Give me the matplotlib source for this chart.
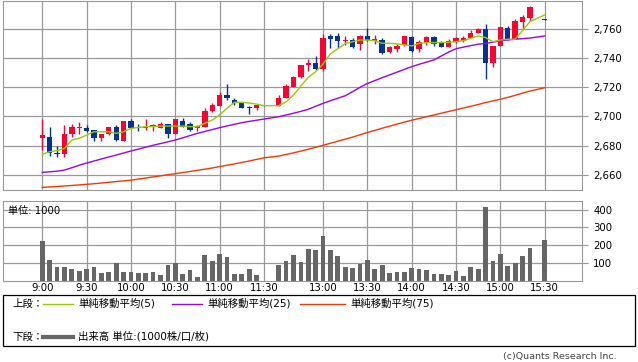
import matplotlib as mpl
mpl.use('Agg')

import matplotlib.pyplot as plt
from matplotlib.patches import Rectangle
import numpy as np

plt.rcParams['font.family'] = ['DejaVu Sans', 'Noto Sans CJK JP']

# 5 minute bars, morning + afternoon session
times = ['9:00', '9:05', '9:10', '9:15', '9:20', '9:25', '9:30', '9:35', '9:40', '9:45',
         '9:50', '9:55', '10:00', '10:05', '10:10', '10:15', '10:20', '10:25', '10:30', '10:35',
         '10:40', '10:45', '10:50', '10:55', '11:00', '11:05', '11:10', '11:15', '11:20', '11:25',
         '11:30',
         '12:30', '12:35', '12:40', '12:45', '12:50', '12:55', '13:00', '13:05', '13:10', '13:15',
         '13:20', '13:25', '13:30', '13:35', '13:40', '13:45', '13:50', '13:55', '14:00', '14:05',
         '14:10', '14:15', '14:20', '14:25', '14:30', '14:35', '14:40', '14:45', '14:50', '14:55',
         '15:00', '15:05', '15:10', '15:15', '15:20', '15:30']

opens = [2685, 2686, 2675, 2674, 2688, 2692, 2692, 2691, 2685, 2688,
         2693, 2683, 2697, 2693, 2692, 2692.5, 2692, 2695, 2688, 2697,
         2695, 2692, 2692.5, 2704, 2707.5, 2715, 2711, 2709.5, 2706.2, 2705.5,
         2708,
         2707.5, 2713, 2720, 2727, 2735, 2737, 2732.5, 2755, 2755, 2751.5,
         2752.5, 2749.5, 2755, 2752, 2752.5, 2744.5, 2746, 2749, 2754.5, 2746,
         2750.5, 2754.5, 2751, 2748, 2751.3, 2752, 2753.7, 2757.5, 2760, 2736.5,
         2748.6, 2761, 2753, 2765, 2767.5, 2767]
highs = [2698, 2693, 2680, 2694, 2695, 2696, 2694, 2691, 2688, 2693,
         2694, 2697, 2698, 2695, 2698, 2695, 2696, 2695, 2698, 2699,
         2696, 2694, 2706, 2709, 2717, 2722, 2713, 2710, 2707, 2708,
         2708,
         2715, 2722, 2727.5, 2735, 2739.5, 2741.5, 2756.5, 2756.5, 2757, 2755,
         2754, 2756, 2760.5, 2756, 2754, 2748.5, 2750, 2755.5, 2755, 2752.5,
         2755, 2755.5, 2751.5, 2753, 2754.8, 2755, 2759.4, 2760.5, 2763.5, 2748.4,
         2761.6, 2762, 2767, 2769.7, 2776, 2767]
lows = [2677, 2673, 2672, 2672, 2686, 2688, 2689, 2683, 2683, 2687,
        2683, 2683, 2692, 2690, 2691, 2690, 2692, 2685, 2688, 2692.5,
        2690, 2690, 2692.5, 2703, 2707.5, 2711, 2708, 2705.5, 2702, 2704.5,
        2707,
        2707.5, 2713, 2720, 2726.5, 2731, 2732, 2731.5, 2747, 2747, 2749,
        2747, 2745.5, 2752, 2750, 2743, 2743.5, 2744.5, 2748.5, 2744.5, 2744.5,
        2749, 2748.5, 2748, 2748, 2750.7, 2751.3, 2753.7, 2757.5, 2726, 2734,
        2748.6, 2752.5, 2753, 2760, 2765.5, 2766.5]
closes = [2687, 2675, 2674, 2688, 2693, 2692.5, 2690, 2685, 2688, 2693,
          2684, 2697, 2692, 2692, 2693, 2694, 2695, 2688, 2698, 2693,
          2691, 2693.5, 2704, 2708, 2715, 2713, 2709.5, 2705.5, 2705.8, 2708,
          2707.5,
          2713, 2721, 2727, 2735, 2737, 2732.5, 2754, 2753, 2752, 2752.5,
          2748, 2755.5, 2752.5, 2753, 2743.5, 2747.5, 2748.5, 2755, 2745, 2751,
          2754.5, 2749.5, 2748, 2751.5, 2753.7, 2754, 2757.5, 2760, 2736.5, 2748.4,
          2761.6, 2753, 2765.5, 2768, 2775, 2766.5]

ma5 = [2674, 2675.8, 2676.5, 2678.1, 2683.8, 2685, 2687.2, 2689.5, 2689.5, 2689.5,
       2688.4, 2689.5, 2691.8, 2692.5, 2693, 2693, 2693.4, 2693.4, 2693.4, 2693.4,
       2693, 2693, 2695.3, 2697.5, 2701, 2705.6, 2709.7, 2709.7, 2709.2, 2708.5,
       2707.4,
       2707.4, 2710.1, 2714.7, 2720.9, 2726.9, 2730.7, 2736, 2743, 2746.5, 2750,
       2751.3, 2752.5, 2752.5, 2752, 2750.2, 2750.2, 2749.8, 2749.1, 2748.4, 2750.2,
       2750.7, 2750.7, 2750.7, 2750.9, 2751.3, 2752, 2753.7, 2755.3, 2754.1, 2751.3,
       2752.5, 2753, 2753, 2759, 2765.1, 2769.7]
ma25 = [2661.6, 2662.0, 2662.4, 2663.2, 2664.8, 2666.5, 2668.0, 2669.4, 2670.8, 2672.2,
        2673.5, 2674.9, 2676.3, 2677.6, 2678.9, 2680.2, 2681.4, 2682.6, 2683.8, 2685.3,
        2686.9, 2688.4, 2689.7, 2691.0, 2692.3, 2693.5, 2694.6, 2695.7, 2696.6, 2697.4,
        2698.2,
        2699.8, 2701.0, 2702.2, 2703.5, 2704.9, 2707.0, 2709.0, 2710.8, 2712.5, 2714.2,
        2717.0, 2720.0, 2722.6, 2724.6, 2726.6, 2728.5, 2730.4, 2732.3, 2734.2, 2735.8,
        2737.3, 2738.8, 2741.5, 2744.2, 2746.5, 2747.6, 2748.6, 2749.6, 2750.2, 2751.0,
        2752.0, 2752.5, 2753.0, 2753.4, 2753.8, 2755.3]
ma75 = [2651.3, 2651.6, 2651.9, 2652.3, 2652.6, 2653.0, 2653.4, 2653.8, 2654.3, 2654.8,
        2655.3, 2655.8, 2656.2, 2657.0, 2657.7, 2658.5, 2659.2, 2660.0, 2660.7, 2661.5,
        2662.2, 2663.0, 2663.8, 2664.6, 2665.6, 2666.5, 2667.4, 2668.4, 2669.4, 2670.5,
        2671.6,
        2672.8, 2673.9, 2675.0, 2676.2, 2677.5, 2678.8, 2680.2, 2681.6, 2683.0, 2684.4,
        2685.8, 2687.4, 2689.0, 2690.4, 2691.9, 2693.3, 2694.7, 2696.1, 2697.4, 2698.6,
        2699.8, 2701.0, 2702.2, 2703.4, 2704.6, 2705.8, 2707.0, 2708.2, 2709.5, 2710.7,
        2711.8, 2713.1, 2714.5, 2716.0, 2717.4, 2719.7]

volume = [225, 116, 78, 78, 65, 54, 65, 78, 44, 50,
          97, 50, 50, 44, 44, 50, 31, 88, 97, 37,
          59, 22, 144, 110, 150, 135, 37, 37, 65, 31,
          0,
          88, 110, 144, 107, 178, 173, 254, 173, 139, 78,
          73, 93, 116, 65, 88, 42, 48, 48, 71, 65,
          59, 37, 37, 31, 54, 25, 76, 65, 416, 110,
          150, 82, 99, 139, 186, 231]

tick_labels = ['9:00', '9:30', '10:00', '10:30', '11:00', '11:30',
               '13:00', '13:30', '14:00', '14:30', '15:00', '15:30']
price_ticks = [2660, 2680, 2700, 2720, 2740, 2760]
vol_ticks = [100, 200, 300, 400]

UP = '#ff0033'
DOWN = '#003399'
GRID = '#999999'


def slot(t):
    h, m = t.split(':')
    mins = int(h) * 60 + int(m)
    if mins < 12 * 60:
        return (mins - 9 * 60) / 5.0
    return (mins - 12 * 60 - 30) / 5.0 + 32


x = np.array([slot(t) for t in times])
o = np.array(opens); c = np.array(closes)
hi = np.array(highs); lo = np.array(lows)
cols = np.where(c >= o, UP, DOWN)

W, H = 638.0, 362.0
fig = plt.figure(figsize=(W / 100, H / 100), dpi=100)


def px_axes(left, top, right, bottom):
    return fig.add_axes([left / W, 1 - bottom / H, (right - left) / W, (bottom - top) / H])


xlim = (-5.32, 73.05)

# price panel
ax = px_axes(3, 0.5, 582, 190)
ax.set_axisbelow(True)
ax.grid(True, color=GRID, lw=0.9)
ax.plot(x, ma75, color='#ff3300', lw=1.0, zorder=4)
ax.plot(x, ma25, color='#9900ff', lw=1.0, zorder=4)
ax.vlines(x, lo, hi, colors=cols, lw=1.0, zorder=3)
ax.bar(x, np.maximum(np.abs(c - o), 0.5), 0.72, bottom=np.minimum(o, c),
       color=cols, linewidth=0, zorder=3)
ax.plot(x, ma5, color='#99cc00', lw=1.0, zorder=4)
ax.set_xlim(*xlim)
ax.set_ylim(2649.5, 2779.6)
ax.set_xticks([slot(t) for t in tick_labels])
ax.set_xticklabels([])
ax.set_yticks(price_ticks)
ax.set_yticklabels([f'{v:,}' for v in price_ticks])
ax.yaxis.tick_right()
ax.tick_params(axis='x', length=0)
ax.tick_params(axis='y', length=4, color=GRID, labelsize=7.3, pad=4)
for s in ax.spines.values():
    s.set_color(GRID)

# volume panel
av = px_axes(3, 201, 582, 280.5)
av.set_axisbelow(True)
av.grid(True, color=GRID, lw=0.9)
av.bar(x, volume, 0.64, color='#666666', linewidth=0)
av.set_xlim(*xlim)
av.set_ylim(0, 449)
av.set_xticks([slot(t) for t in tick_labels])
av.set_xticklabels(tick_labels)
av.set_yticks(vol_ticks)
av.yaxis.tick_right()
av.tick_params(axis='x', length=0, labelsize=7.3, pad=2)
av.tick_params(axis='y', length=4, color=GRID, labelsize=7.3, pad=4)
for s in av.spines.values():
    s.set_color(GRID)
av.text(5 / 579, (449 - 12) / 449 * 0 + 0.88, '単位: 1000', transform=av.transAxes,
        fontsize=7.3, va='center', ha='left')

# legend box, laid out in pixels
lg = fig.add_axes([0, 0, 1, 1])
lg.set_xlim(0, W)
lg.set_ylim(H, 0)
lg.axis('off')
lg.add_patch(Rectangle((3, 294.5), 632, 51.5, fill=False, ec='black', lw=0.9))
lg.text(12, 303.5, '上段：', fontsize=7.5, va='center', ha='left')
lg.plot([43, 73], [303.5, 303.5], color='#99cc00', lw=1.0)
lg.text(78, 303.5, '単純移動平均(5)', fontsize=7.5, va='center', ha='left')
lg.plot([172, 202], [303.5, 303.5], color='#9900ff', lw=1.0)
lg.text(207, 303.5, '単純移動平均(25)', fontsize=7.5, va='center', ha='left')
lg.plot([300, 345], [303.5, 303.5], color='#ff3300', lw=1.0)
lg.text(350, 303.5, '単純移動平均(75)', fontsize=7.5, va='center', ha='left')
lg.text(12, 336.5, '下段：', fontsize=7.5, va='center', ha='left')
lg.plot([43, 73], [336.5, 336.5], color='#666666', lw=3.0)
lg.text(78, 336.5, '出来高 単位:(1000株/口/枚)', fontsize=7.5, va='center', ha='left')
lg.text(617, 357, '(c)Quants Research Inc.', fontsize=6.8, color='#444444',
        va='center', ha='right')

plt.savefig('out.png', dpi=100)
plt.close()
